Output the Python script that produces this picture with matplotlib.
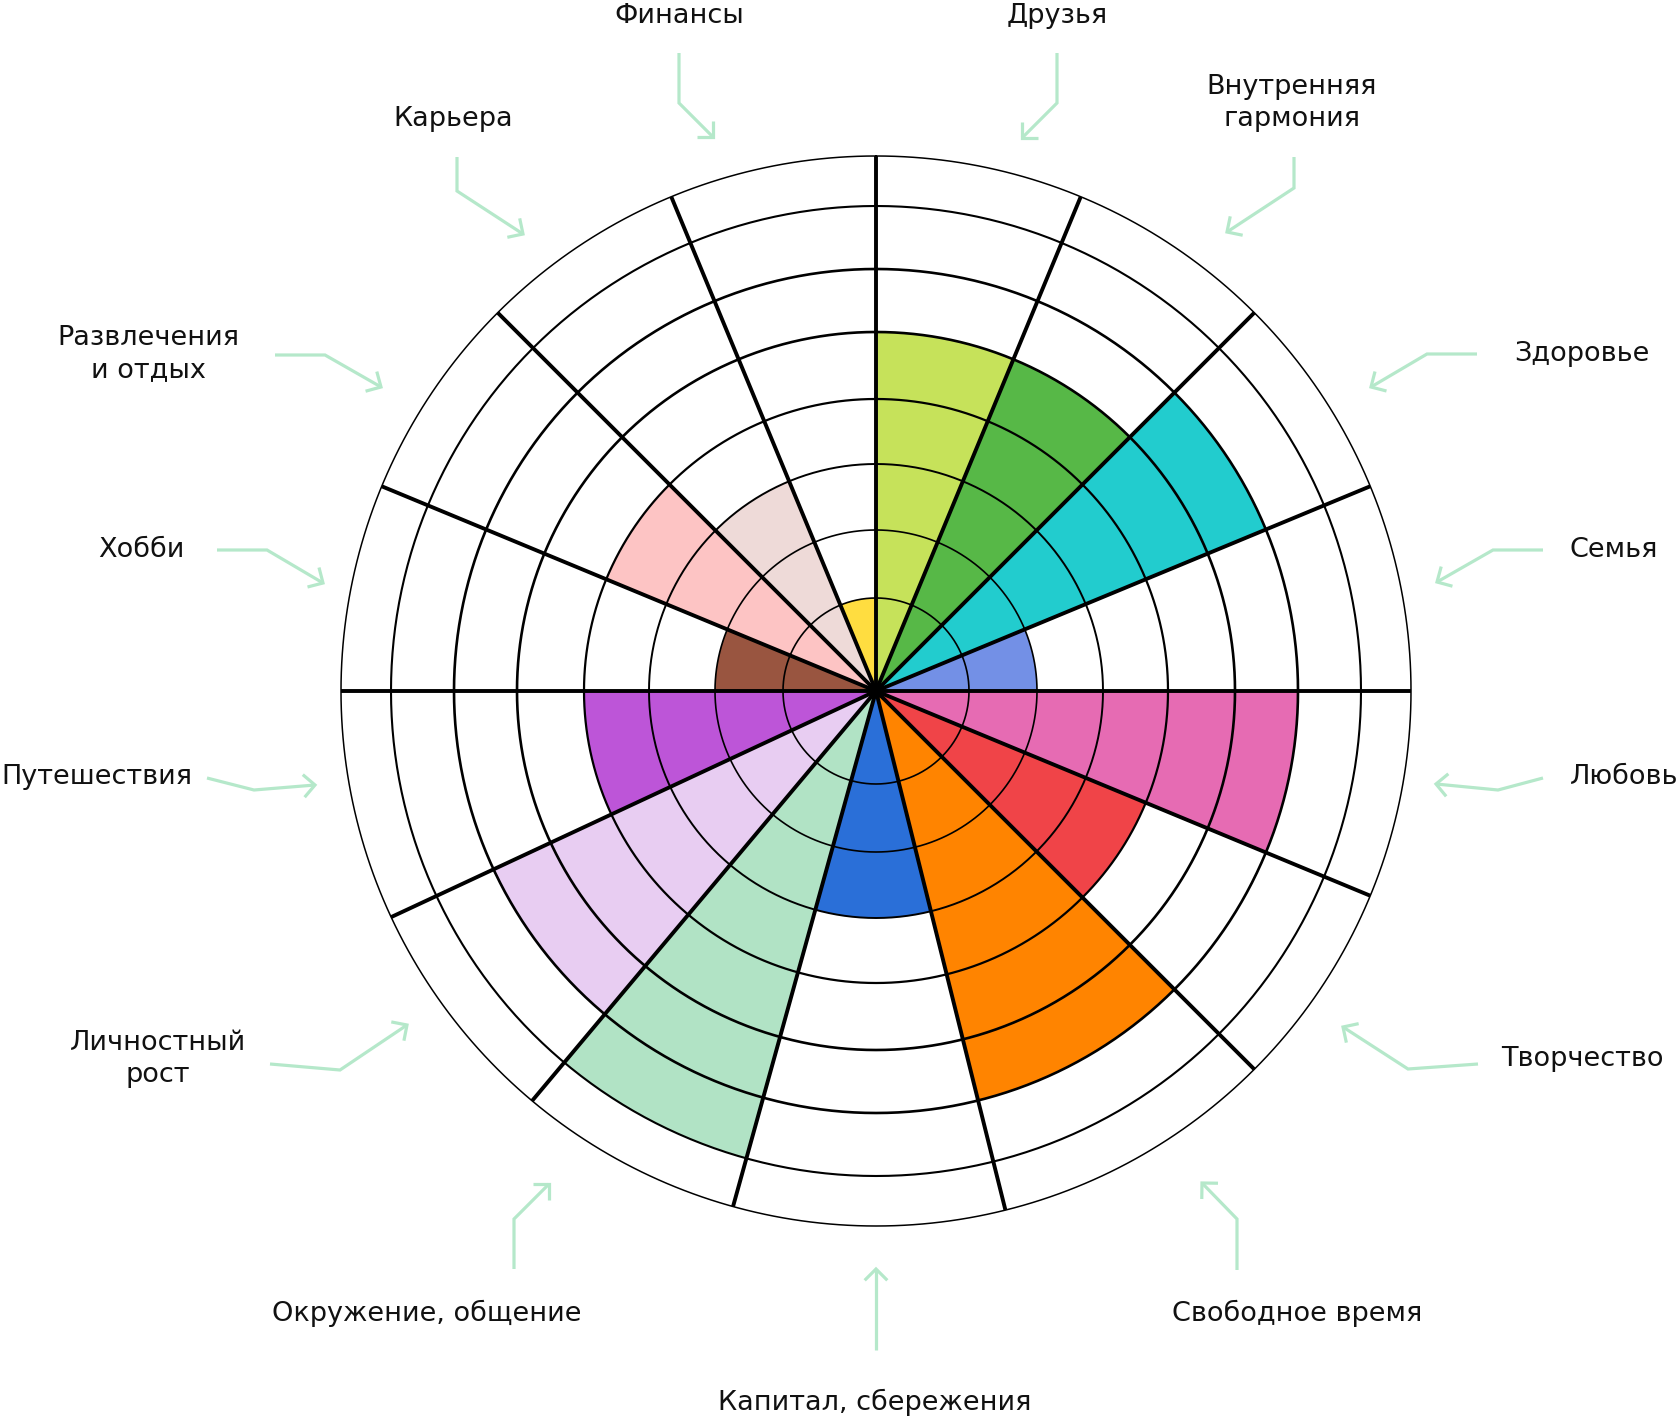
import numpy as np
import matplotlib.pyplot as plt
from matplotlib.lines import Line2D

# wheel sectors, clockwise from 12 o'clock
categories = ['Друзья', 'Внутренняя\nгармония', 'Здоровье', 'Семья', 'Любовь',
              'Творчество', 'Свободное время', 'Капитал, сбережения',
              'Окружение, общение', 'Личностный\nрост', 'Путешествия', 'Хобби',
              'Развлечения\nи отдых', 'Карьера', 'Финансы']
scores = [5, 5, 6, 2, 6, 4, 6, 3, 7, 6, 4, 2, 4, 3, 1]
# sector borders in degrees, clockwise from the top
edges = [0, 22.5, 45, 67.5, 90, 112.5, 135, 166, 195.5, 220, 245, 270,
         292.5, 315, 337.5, 360]
colors = ['#C6E25A', '#57B847', '#22CCCE', '#7390E6', '#E66BB3', '#F04448',
          '#FF8400', '#2A6FD8', '#B1E3C5', '#E8CDF2', '#BD55D8', '#995540',
          '#FDC4C4', '#EEDAD8', '#FFDD40']
# ring radii (pixels of the final image); score n ends on ring n
rings = [93, 161, 227, 292, 359, 422, 485, 535]
ring_lw = [1.2, 1.2, 1.4, 1.6, 1.9, 1.9, 1.5, 1.1]

# label centres and arrow paths in image pixels (x, y from top)
label_xy = [(1057, 16), (1292, 103), (1582, 354), (1614, 550), (1624, 777),
            (1582, 1059), (1297, 1313), (875, 1402), (427, 1313), (158, 1059),
            (97, 777), (141, 550), (148, 354), (453, 119), (679, 16)]
arrows = [
    [(1057, 53), (1057, 103), (1022, 138)],
    [(1294, 157), (1294, 188), (1227, 232)],
    [(1477, 354), (1427, 354), (1371, 387)],
    [(1543, 550), (1493, 550), (1437, 582)],
    [(1543, 778), (1498, 790), (1436, 784)],
    [(1478, 1064), (1408, 1069), (1343, 1027)],
    [(1237, 1270), (1237, 1219), (1202, 1183)],
    [(876, 1350), (876, 1269)],
    [(514, 1269), (514, 1219), (549, 1184)],
    [(270, 1064), (340, 1070), (407, 1025)],
    [(207, 778), (254, 790), (315, 785)],
    [(217, 550), (267, 550), (323, 583)],
    [(275, 355), (325, 355), (381, 387)],
    [(457, 157), (457, 191), (523, 234)],
    [(679, 53), (679, 103), (713, 137)],
]

W, H = 1680, 1420
CX, CY = 876, 691
RMAX = 545


def fx(x):
    return x / W


def fy(y):
    return 1 - y / H


fig = plt.figure(figsize=(W / 100, H / 100), dpi=100)
ax = fig.add_axes([fx(CX - RMAX), fy(CY + RMAX), 2 * RMAX / W, 2 * RMAX / H],
                  projection='polar')
ax.set_theta_zero_location('N')
ax.set_theta_direction(-1)
ax.set_ylim(0, RMAX)
ax.axis('off')

# coloured sectors
edges_r = np.radians(edges)
starts = edges_r[:-1]
widths = np.diff(edges_r)
heights = [rings[s - 1] for s in scores]
ax.bar(starts, heights, width=widths, align='edge', color=colors,
       linewidth=0, zorder=1)

# rings
t = np.linspace(0, 2 * np.pi, 721)
for r, lw in zip(rings, ring_lw):
    ax.plot(t, np.full_like(t, r), color='black', lw=lw, zorder=2)

# sector borders
for e in edges_r[:-1]:
    ax.plot([e, e], [0, rings[-1]], color='black', lw=2.8,
            solid_capstyle='butt', zorder=3)
ax.plot([0], [0], 'o', color='black', ms=9, zorder=4)

# labels
for name, (x, y) in zip(categories, label_xy):
    fig.text(fx(x), fy(y), name, ha='center', va='center', fontsize=19.5,
             color='#111111', linespacing=1.33, family='DejaVu Sans')

# arrows
green = '#B5E8CA'
for path in arrows:
    xs = [p[0] for p in path]
    ys = [p[1] for p in path]
    fig.add_artist(Line2D([fx(v) for v in xs], [fy(v) for v in ys],
                          color=green, lw=2.3, solid_capstyle='butt',
                          solid_joinstyle='miter'))
    dx, dy = xs[-1] - xs[-2], ys[-1] - ys[-2]
    ang = np.arctan2(dy, dx)
    head = []
    for s in (-1, 1):
        a = ang + np.pi + s * np.pi / 4
        head.append((xs[-1] + 16 * np.cos(a), ys[-1] + 16 * np.sin(a)))
    hx = [head[0][0], xs[-1], head[1][0]]
    hy = [head[0][1], ys[-1], head[1][1]]
    fig.add_artist(Line2D([fx(v) for v in hx], [fy(v) for v in hy],
                          color=green, lw=2.3, solid_capstyle='butt',
                          solid_joinstyle='miter'))

fig.savefig('out.png', dpi=100, facecolor='white')
